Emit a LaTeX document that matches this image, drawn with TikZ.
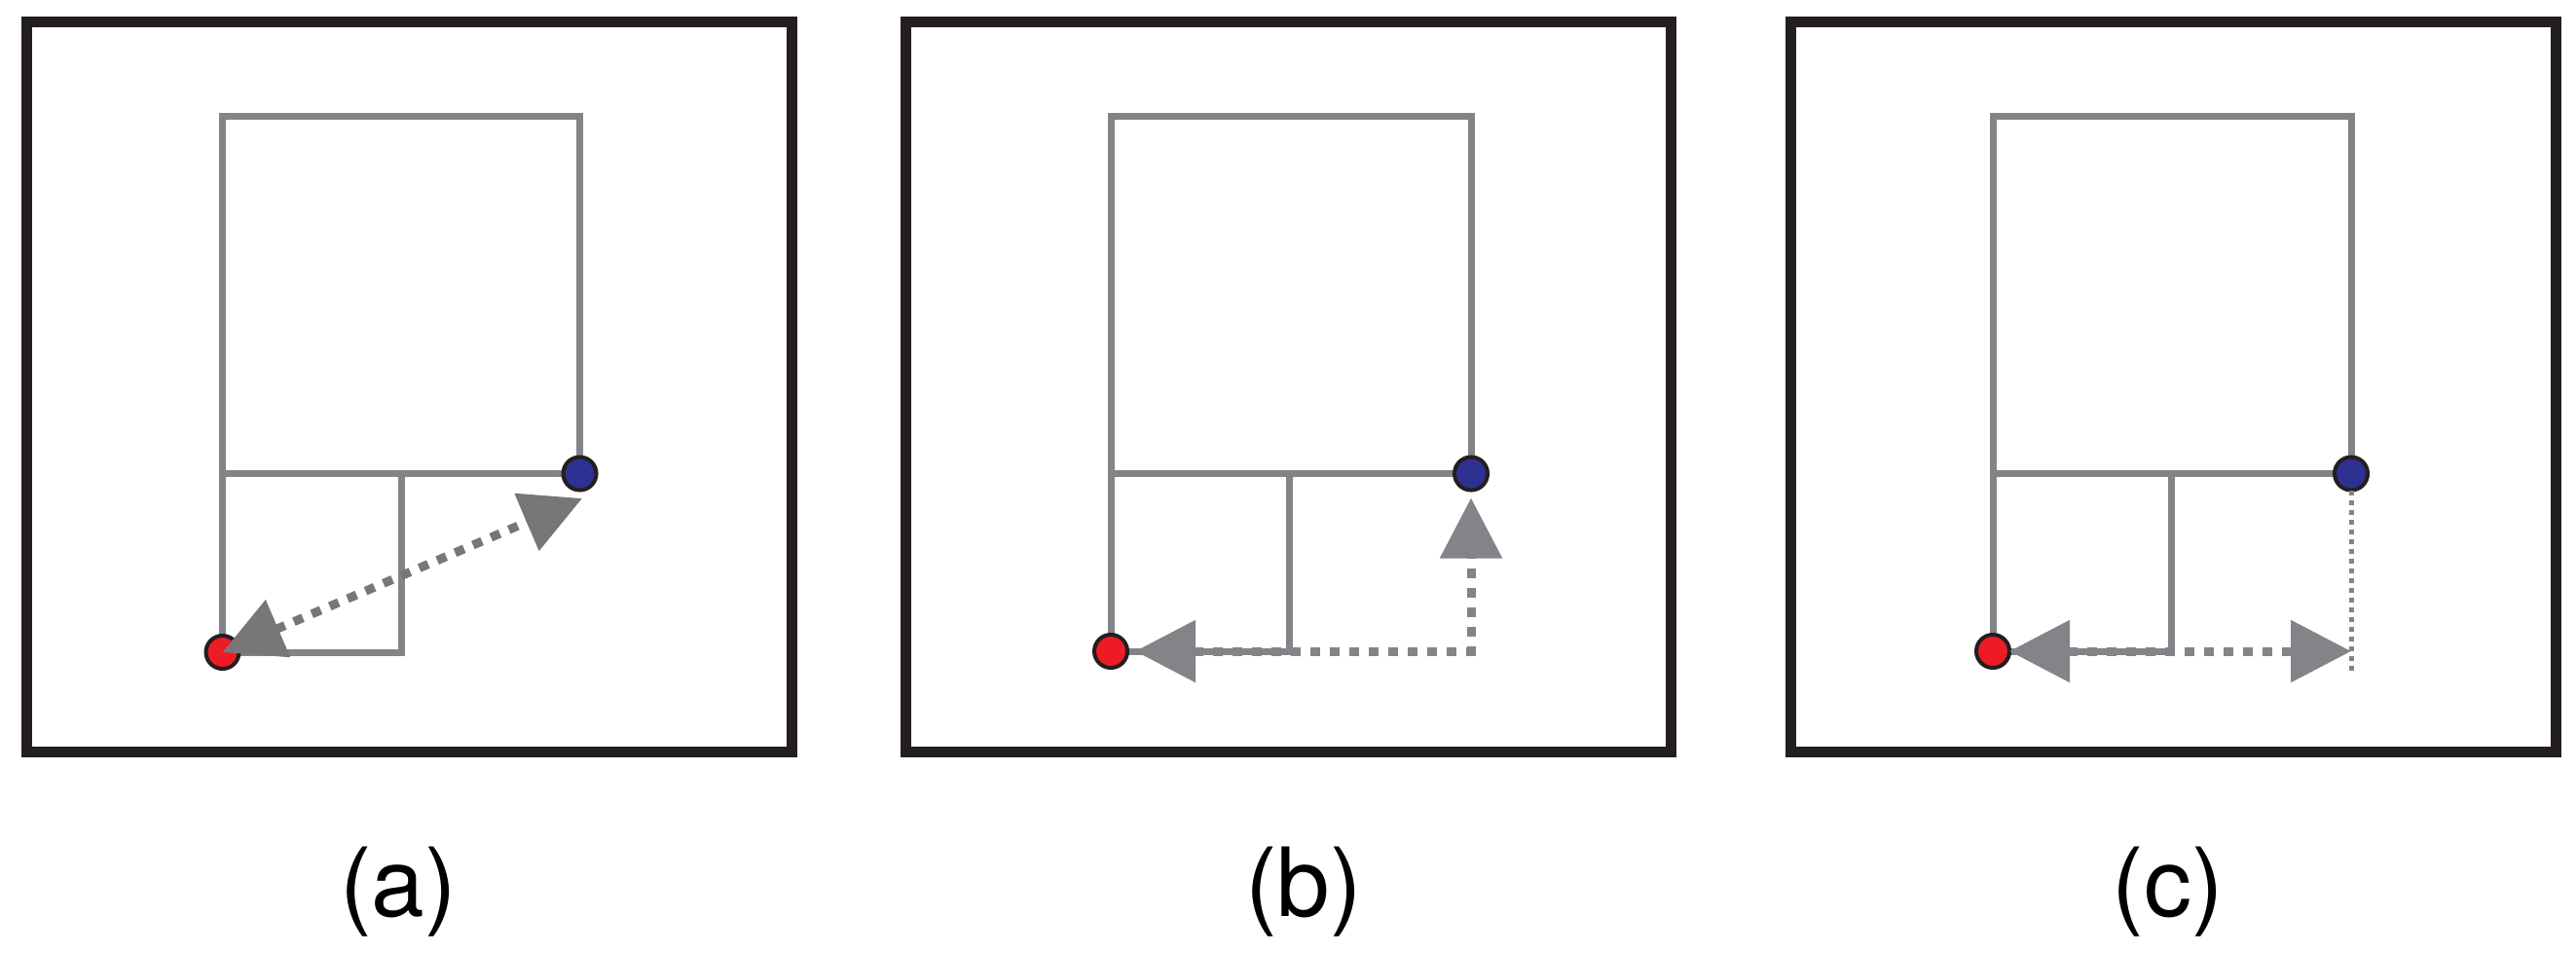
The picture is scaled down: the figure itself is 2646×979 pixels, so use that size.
\documentclass[tikz,border=0pt]{standalone}
\usepackage{fontspec}
\setmainfont{TeX Gyre Heros}
\usetikzlibrary{arrows.meta}

\definecolor{framecol}{RGB}{35,31,32}
\definecolor{wallcol}{RGB}{131,132,135}
\definecolor{arrowcol}{RGB}{119,119,119}
\definecolor{dotred}{RGB}{237,28,36}
\definecolor{dotblue}{RGB}{46,49,146}

\begin{document}
\begin{tikzpicture}[x=0.01cm, y=-0.01cm,
    frame/.style={draw=framecol, line width=0.11cm},
    wall/.style={draw=wallcol, line width=0.07cm},
    dot/.style={draw=framecol, circle, line width=0.04cm, minimum size=0.34cm, inner sep=0pt, outer sep=0pt},
    dotarrow/.style={color=wallcol, line width=0.09cm, dash pattern=on 0.1cm off 0.1cm,
        >={Triangle[length=0.62cm, width=0.62cm]}}, % big grey heads
    thindot/.style={draw=wallcol, line width=0.05cm, dash pattern=on 0.05cm off 0.05cm},
    lab/.style={inner sep=0pt, font=\fontsize{27.9}{33}\selectfont}
    ]
    \useasboundingbox (0,0) rectangle (2646,979);

    % Outer frames
    \draw[frame] (27.5,22.5) rectangle (813,772.5);
    \draw[frame] (930.5,22.5) rectangle (1716.5,772.5);
    \draw[frame] (1839.5,22.5) rectangle (2625.5,772.5);

    % Rooms
    \draw[wall] (228.5,119.5) rectangle (595.5,486.5);
    \draw[wall] (228.5,486.5) rectangle (412,670);
    \draw[wall] (1141,119.5) rectangle (1511,486.5);
    \draw[wall] (1141,486.5) rectangle (1324,669);
    \draw[wall] (2047,119.5) rectangle (2415,486.5);
    \draw[wall] (2047,486.5) rectangle (2230,669);

    % Define nodes
    \node[dot, fill=dotred] (ra) at (228.5,670) {};
    \node[dot, fill=dotblue] (ba) at (595.5,486.5) {};
    \node[dot, fill=dotred] (rb) at (1141,669) {};
    \node[dot, fill=dotblue] (bb) at (1511,486.5) {};
    \node[dot, fill=dotred] (rc) at (2047,669) {};
    \node[dot, fill=dotblue] (bc) at (2415,486.5) {};

    \coordinate (ea) at (598,512);
    \coordinate (cb) at (1511,669);
    \coordinate (cc) at (2415,669);
    \coordinate (tc) at (2415,690);

    % Draw distances
    \draw[dotarrow, color=arrowcol, <->] (ra.center) -- (ea);
    \draw[dotarrow, <->, shorten <=0.08cm, shorten >=0.08cm] (rb) -- (cb) -- (bb);
    \draw[thindot] (bc) -- (tc);
    \draw[dotarrow, <->] (rc) -- (cc);

    % Labels
    \node[lab] (la) at (409,916) {(a)};
    \node[lab] (lb) at (1339,916) {(b)};
    \node[lab] (lc) at (2227,916) {(c)};

\end{tikzpicture}
\end{document}
